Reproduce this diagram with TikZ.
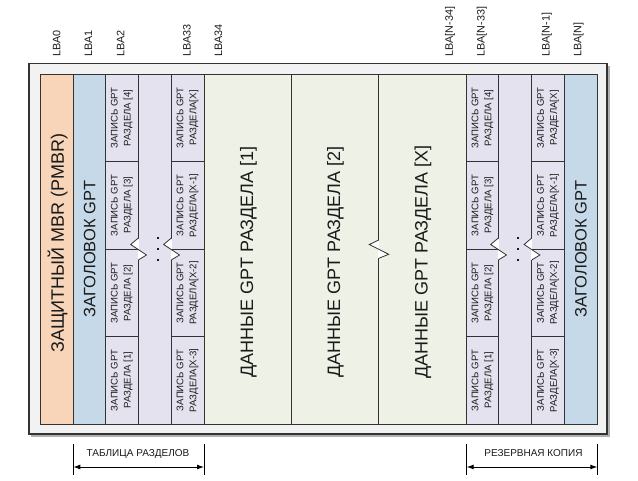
\documentclass[tikz,border=0pt]{standalone}
\usepackage{fontspec}
\setmainfont{Liberation Sans}
\usetikzlibrary{arrows.meta}
\definecolor{cpeach}{HTML}{F8D5B8}
\definecolor{cblue}{HTML}{C5D9E9}
\definecolor{clav}{HTML}{E5E2EF}
\definecolor{cgreen}{HTML}{EEF1E6}
\definecolor{cframe}{HTML}{F2F2F2}
\definecolor{cshadow}{HTML}{B0B0B0}
\definecolor{cline}{HTML}{333333}
\definecolor{ctxt}{HTML}{1A1A1A}
\newcommand\zigbrk[6]{%
  \draw[white, line width=1.3pt] (#1,#2+0.5) -- (#1,#3-0.5);
  \filldraw[fill=white, draw=cline, line width=0.8pt, line join=miter]
    (#1,#2) -- (#1-#4,#5) -- (#1+#4+0.6,#6) -- (#1,#3);}
\tikzset{
  box/.style={draw=cline, line width=0.8pt},
  bigtxt/.style={rotate=90, font=\fontsize{18}{20}\selectfont, text=ctxt, inner sep=0pt},
  hdrtxt/.style={rotate=90, font=\fontsize{16.5}{19}\selectfont, text=ctxt, inner sep=0pt},
  entrytxt/.style={rotate=90, font=\fontsize{9.6}{13}\selectfont, text=ctxt, align=center, inner sep=0pt},
  lbatxt/.style={rotate=90, anchor=west, font=\fontsize{10.8}{12}\selectfont, text=ctxt, inner sep=0pt},
  brtxt/.style={font=\fontsize{10}{12}\selectfont, text=ctxt, inner sep=0pt},
  brline/.style={draw=black, line width=0.9pt},
  brarrow/.style={draw=black, line width=0.9pt, {Latex[length=7pt,width=5pt]}-{Latex[length=7pt,width=5pt]}},
  dot/.style={rectangle, fill=ctxt, inner sep=0pt, minimum size=2pt}
}
\begin{document}
\begin{tikzpicture}[x=1pt,y=-1pt]
\useasboundingbox (0,0) rectangle (638,480);
% frame
\fill[cshadow] (31,65.5) rectangle (609.5,436.5);
\draw[fill=cframe, draw=cline, line width=1.6pt] (29,63.5) rectangle (607,434);
% columns
\draw[box, fill=cpeach] (40.7,74.3) rectangle (73.3,424);
\draw[box, fill=cblue]  (73.3,74.3) rectangle (105.3,424);
\draw[box, fill=clav]   (105.3,74.3) rectangle (138.3,424);
\draw[box, fill=clav]   (138.3,74.3) rectangle (171.3,424);
\draw[box, fill=clav]   (171.3,74.3) rectangle (204,424);
\draw[box, fill=cgreen] (204,74.3) rectangle (291.7,424);
\draw[box, fill=cgreen] (291.7,74.3) rectangle (378.7,424);
\draw[box, fill=cgreen] (378.7,74.3) rectangle (466.7,424);
\draw[box, fill=clav]   (466.7,74.3) rectangle (498.3,424);
\draw[box, fill=clav]   (498.3,74.3) rectangle (531.7,424);
\draw[box, fill=clav]   (531.7,74.3) rectangle (564.3,424);
\draw[box, fill=cblue]  (564.3,74.3) rectangle (597.3,424);
% row lines in entry columns
\foreach \xa/\xb in {105.3/138.3, 171.3/204, 466.7/498.3, 531.7/564.3}{
  \foreach \yy in {161.5, 249.2, 336.7}{
    \draw[box] (\xa,\yy) -- (\xb,\yy);
  }
}
% breaks
\zigbrk{138.3}{238}{260}{7.6}{244.5}{255}
\zigbrk{171.3}{238}{260}{7.6}{244.5}{255}
\zigbrk{498.3}{238}{260}{7.6}{244.5}{255}
\zigbrk{531.7}{238}{260}{7.6}{244.5}{255}
\zigbrk{378.7}{240}{258.3}{9.4}{244.5}{254.3}
% dots
\node[dot] (d1) at (158.3,238) {};
\node[dot] (d2) at (158.3,249) {};
\node[dot] (d3) at (158.3,259.7) {};
\node[dot] (d4) at (518.3,238) {};
\node[dot] (d5) at (518.3,249) {};
\node[dot] (d6) at (518.3,259.7) {};
% big texts
\node[bigtxt] (pmbr) at (57.5,243) {ЗАЩИТНЫЙ MBR (PMBR)};
\node[hdrtxt] (hdr1) at (89.8,249) {ЗАГОЛОВОК GPT};
\node[hdrtxt] (hdr2) at (581,249) {ЗАГОЛОВОК GPT};
\node[bigtxt] (data1) at (248.5,262) {ДАННЫЕ GPT РАЗДЕЛА [1]};
\node[bigtxt] (data2) at (335.5,262) {ДАННЫЕ GPT РАЗДЕЛА [2]};
\node[bigtxt] (datax) at (423,262) {ДАННЫЕ GPT РАЗДЕЛА [X]};
% entries
\foreach \cx/\nm in {121.8/a, 482.5/b}{
  \node[entrytxt] (e4\nm) at (\cx,117.9) {ЗАПИСЬ GPT\\РАЗДЕЛА [4]};
  \node[entrytxt] (e3\nm) at (\cx,205.3) {ЗАПИСЬ GPT\\РАЗДЕЛА [3]};
  \node[entrytxt] (e2\nm) at (\cx,293) {ЗАПИСЬ GPT\\РАЗДЕЛА [2]};
  \node[entrytxt] (e1\nm) at (\cx,380.3) {ЗАПИСЬ GPT\\РАЗДЕЛА [1]};
}
\foreach \cx/\nm in {187.6/a, 548/b}{
  \node[entrytxt] (x0\nm) at (\cx,117.9) {ЗАПИСЬ GPT\\РАЗДЕЛА[X]};
  \node[entrytxt] (x1\nm) at (\cx,205.3) {ЗАПИСЬ GPT\\РАЗДЕЛА[X-1]};
  \node[entrytxt] (x2\nm) at (\cx,293) {ЗАПИСЬ GPT\\РАЗДЕЛА[X-2]};
  \node[entrytxt] (x3\nm) at (\cx,380.3) {ЗАПИСЬ GPT\\РАЗДЕЛА[X-3]};
}
% LBA labels
\node[lbatxt] (l0) at (56.7,57) {LBA0};
\node[lbatxt] (l1) at (88.5,57) {LBA1};
\node[lbatxt] (l2) at (120.5,57) {LBA2};
\node[lbatxt] (l33) at (186.8,57) {LBA33};
\node[lbatxt] (l34) at (218.3,57) {LBA34};
\node[lbatxt] (ln34) at (450,57) {LBA[N-34]};
\node[lbatxt] (ln33) at (481.8,57) {LBA[N-33]};
\node[lbatxt] (ln1) at (546.8,57) {LBA[N-1]};
\node[lbatxt] (ln) at (578.5,57) {LBA[N]};
% brackets
\coordinate (a1t) at (73.3,444); \coordinate (a1b) at (73.3,475);
\coordinate (a2t) at (204,444);  \coordinate (a2b) at (204,475);
\coordinate (b1t) at (466.7,444); \coordinate (b1b) at (466.7,475);
\coordinate (b2t) at (597.3,444); \coordinate (b2b) at (597.3,475);
\coordinate (a1m) at (73.3,467); \coordinate (a2m) at (204,467);
\coordinate (b1m) at (466.7,467); \coordinate (b2m) at (597.3,467);
\draw[brline] (a1t) -- (a1b);
\draw[brline] (a2t) -- (a2b);
\draw[brline] (b1t) -- (b1b);
\draw[brline] (b2t) -- (b2b);
\draw[brarrow] (a1m) -- (a2m);
\draw[brarrow] (b1m) -- (b2m);
\node[brtxt] (tbl) at (138,453.5) {ТАБЛИЦА РАЗДЕЛОВ};
\node[brtxt] (bak) at (533.5,453.5) {РЕЗЕРВНАЯ КОПИЯ};
\end{tikzpicture}
\end{document}
